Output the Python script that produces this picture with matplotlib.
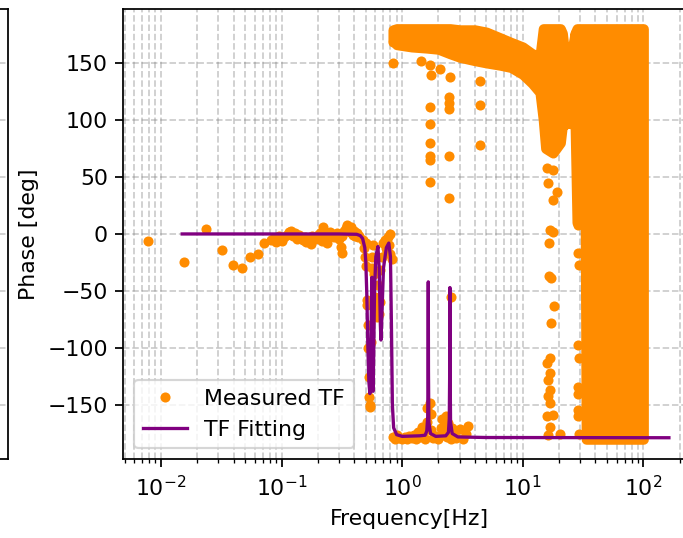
import matplotlib.pyplot as plt

DPI = 158
ORANGE = "darkorange"

# --- measured TF, isolated points (Hz, deg) ---
meas_freq = [
    0.0078, 0.0155, 0.0235, 0.0319, 0.0393, 0.047, 0.0547, 0.0637, 0.0714, 0.0812,
    0.085, 0.09, 0.095, 0.10, 0.105, 0.11, 0.115, 0.12, 0.125, 0.13,
    0.135, 0.14, 0.15, 0.155, 0.16, 0.17, 0.175, 0.18, 0.19, 0.20,
    0.21, 0.215, 0.22, 0.23, 0.24, 0.25, 0.26, 0.27, 0.28, 0.29,
    0.30, 0.31, 0.315, 0.32, 0.33, 0.34, 0.35, 0.36, 0.37, 0.38,
    0.39, 0.40, 0.41, 0.42, 0.43, 0.44,
    0.47, 0.48, 0.49, 0.50, 0.505, 0.51, 0.515, 0.52, 0.525, 0.53,
    0.535, 0.54, 0.545, 0.55, 0.555, 0.56, 0.565, 0.57, 0.58, 0.60,
    0.61, 0.62, 0.63, 0.64, 0.65, 0.66, 0.68, 0.70, 0.72, 0.74,
    0.75, 0.76, 0.78, 0.79, 0.80, 0.82,
    0.84, 0.87, 0.90, 0.95, 1.0, 1.05, 1.1, 1.15, 1.2, 1.25,
    1.3, 1.35, 1.4, 1.45, 1.5, 1.55, 1.6, 1.62, 1.7, 1.72,
    1.75, 1.8, 1.9, 2.0, 2.1, 2.15, 2.2, 2.3, 2.35, 2.4,
    2.45, 2.55, 2.6, 2.7, 2.8, 3.0, 3.2, 3.4, 3.5, 2.55,
    0.84, 0.84, 1.42, 1.70, 1.72, 2.05, 2.48, 2.45, 2.45, 2.45,
    1.70, 1.70, 1.70, 1.70, 1.70, 1.70, 2.47, 2.47, 4.42, 4.42, 4.42,
    16.8, 15.8, 17.8, 16.3, 19.2, 17.9, 16.8, 17.9, 16.6, 16.6,
    17.2, 18.2, 17.2, 16.8, 15.8, 16.8, 16.3, 16.8, 16.3, 16.8,
    15.8, 17.9, 16.8, 16.3, 20.5,
    28.8, 28.8, 28.8, 28.8, 28.8, 28.8, 29.4, 28.8, 29.4, 28.8,
    28.5, 28.5, 28.5, 29.4,
]
meas_phase = [
    -6, -25, 4.5, -14, -27, -30, -20, -18, -8, -5,
    -4, -7, -2, -6, -3, -1, 2, 3, -2, 1,
    -4, -1, -5, -3, -7, -6, -9, -2, -4, -1,
    1, -6, 6, -2, -8, 2, 0, -3, -1, 1,
    -4, -11, -17, -2, 3, 5, 8, 4, 2, 6,
    -1, 3, -2, 1, -3, -2,
    -5, -12, -20, -28, -8, -58, -62, -80, -100, -125,
    -143, -150, -152, -95, -60, -20, -30, -10, -35, -55,
    -65, -73, -45, -70, -60, -32, -20, -8, -5, -12,
    -15, -3, -10, 0, -18, -22,
    -178, -180, -176, -179, -180, -178, -180, -177, -179, -176,
    -180, -174, -178, -169, -176, -180, -165, -153, -148.5, -158,
    -172, -179, -177, -180, -170, -162, -176, -160, -178, -166,
    -173, -180, -170, -176, -179, -171, -180, -175, -168, -55,
    168, 150, 152, 148, 139.5, 145, 138, 120, 115, 110,
    111, 96.5, 79.5, 68, 65, 46, 68, 31.6, 134.5, 113, 78,
    74, 57.6, 56, 44.6, 37, 30, 3.5, 2, -8, -37,
    -39, -63, -78, -109, -113, -122, -128, -137, -142, -148.5,
    -160, -159, -169, -176, -175,
    53, 44.5, 38.6, 18, 8, -17, -27, -97, -109, -134,
    -140, -154, -160, -175,
]

# --- measured TF, densely packed parts (envelopes, Hz / deg) ---
upper_freq = [0.84, 0.9, 1.2, 1.6, 2.0, 2.5, 3.0, 4.0, 5.0, 6.5, 8.0, 10, 12, 13.9,
              14.8, 15.5, 17.8, 20.5, 21.3, 23.4, 25, 27.2]
upper_lo = [170, 166, 164, 163, 162, 158, 155, 152, 150, 148, 146, 140, 132, 124,
            100, 75, 71, 80, 95, 97, 97, 95]
upper_hi = [179, 180, 180, 180, 180, 180, 179, 179, 177, 172, 168, 164, 158, 156,
            180, 180, 180, 180, 176, 138, 155, 176]

dense_freq = [27.2, 28.2, 33.0, 33.6, 100]
dense_lo = [95, 10, 10, -180, -180]
dense_hi = [176, 180, 180, 180, 180]

# --- fitted TF ---
fit_freq = [0.015, 0.3, 0.42, 0.45, 0.47, 0.49, 0.50, 0.51, 0.52, 0.53,
            0.54, 0.55, 0.556, 0.562, 0.567, 0.573, 0.58, 0.59, 0.605, 0.63,
            0.645, 0.66, 0.667, 0.675, 0.70, 0.74, 0.775, 0.80, 0.815, 0.83,
            0.85, 0.90, 1.0, 1.4, 1.55, 1.6, 1.63, 1.64, 1.647, 1.653,
            1.665, 1.72, 1.9, 2.3, 2.42, 2.46, 2.48, 2.49, 2.50, 2.52,
            2.6, 2.9, 5.0, 163]
fit_phase = [0, 0, -0.3, -1.5, -4, -12, -25, -55, -100, -130,
             -140, -110, -60, -38, -60, -138, -110, -50, -20, -11,
             -30, -80, -93, -80, -30, -12, -8, -20, -80, -150,
             -170, -176, -177.5, -177, -176.5, -173, -160, -120, -42, -120,
             -165, -175, -177.5, -177, -174, -162, -120, -47, -120, -165,
             -175, -178, -178.5, -178.7]

yticks = [-150, -100, -50, 0, 50, 100, 150]

fig = plt.figure(figsize=(683 / DPI, 538 / DPI), dpi=DPI)

# neighbouring subplot, only its right edge is inside the picture
ax_left = fig.add_axes([-0.5, 0.1463, 0.5122, 0.8364])
ax_left.set_ylim(-197.6, 197)
ax_left.set_yticks(yticks)
ax_left.set_yticklabels([])
ax_left.set_xticks([])
ax_left.grid(True, linestyle="--", color="gray", alpha=0.4)

ax = fig.add_axes([0.1805, 0.1463, 0.8370, 0.8364])
ax.fill_between(upper_freq, upper_lo, upper_hi, color=ORANGE, lw=4.6,
                joinstyle="round", zorder=2)
ax.fill_between(dense_freq, dense_lo, dense_hi, color=ORANGE, lw=4.6,
                joinstyle="round", zorder=2)
ax.plot(meas_freq, meas_phase, "o", color=ORANGE, ms=4.6, mew=0,
        label="Measured TF", zorder=2)
ax.plot(fit_freq, fit_phase, color="purple", lw=1.5, label="TF Fitting", zorder=3)

ax.set_xscale("log")
ax.set_xlim(4.87e-3, 268)
ax.set_ylim(-197.6, 197)
ax.set_yticks(yticks)
ax.set_xlabel("Frequency[Hz]")
ax.set_ylabel("Phase [deg]")
ax.grid(True, which="both", linestyle="--", color="gray", alpha=0.4)
ax.set_axisbelow(True)
ax.legend(loc="lower left")

fig.savefig("out.png", dpi=DPI)
